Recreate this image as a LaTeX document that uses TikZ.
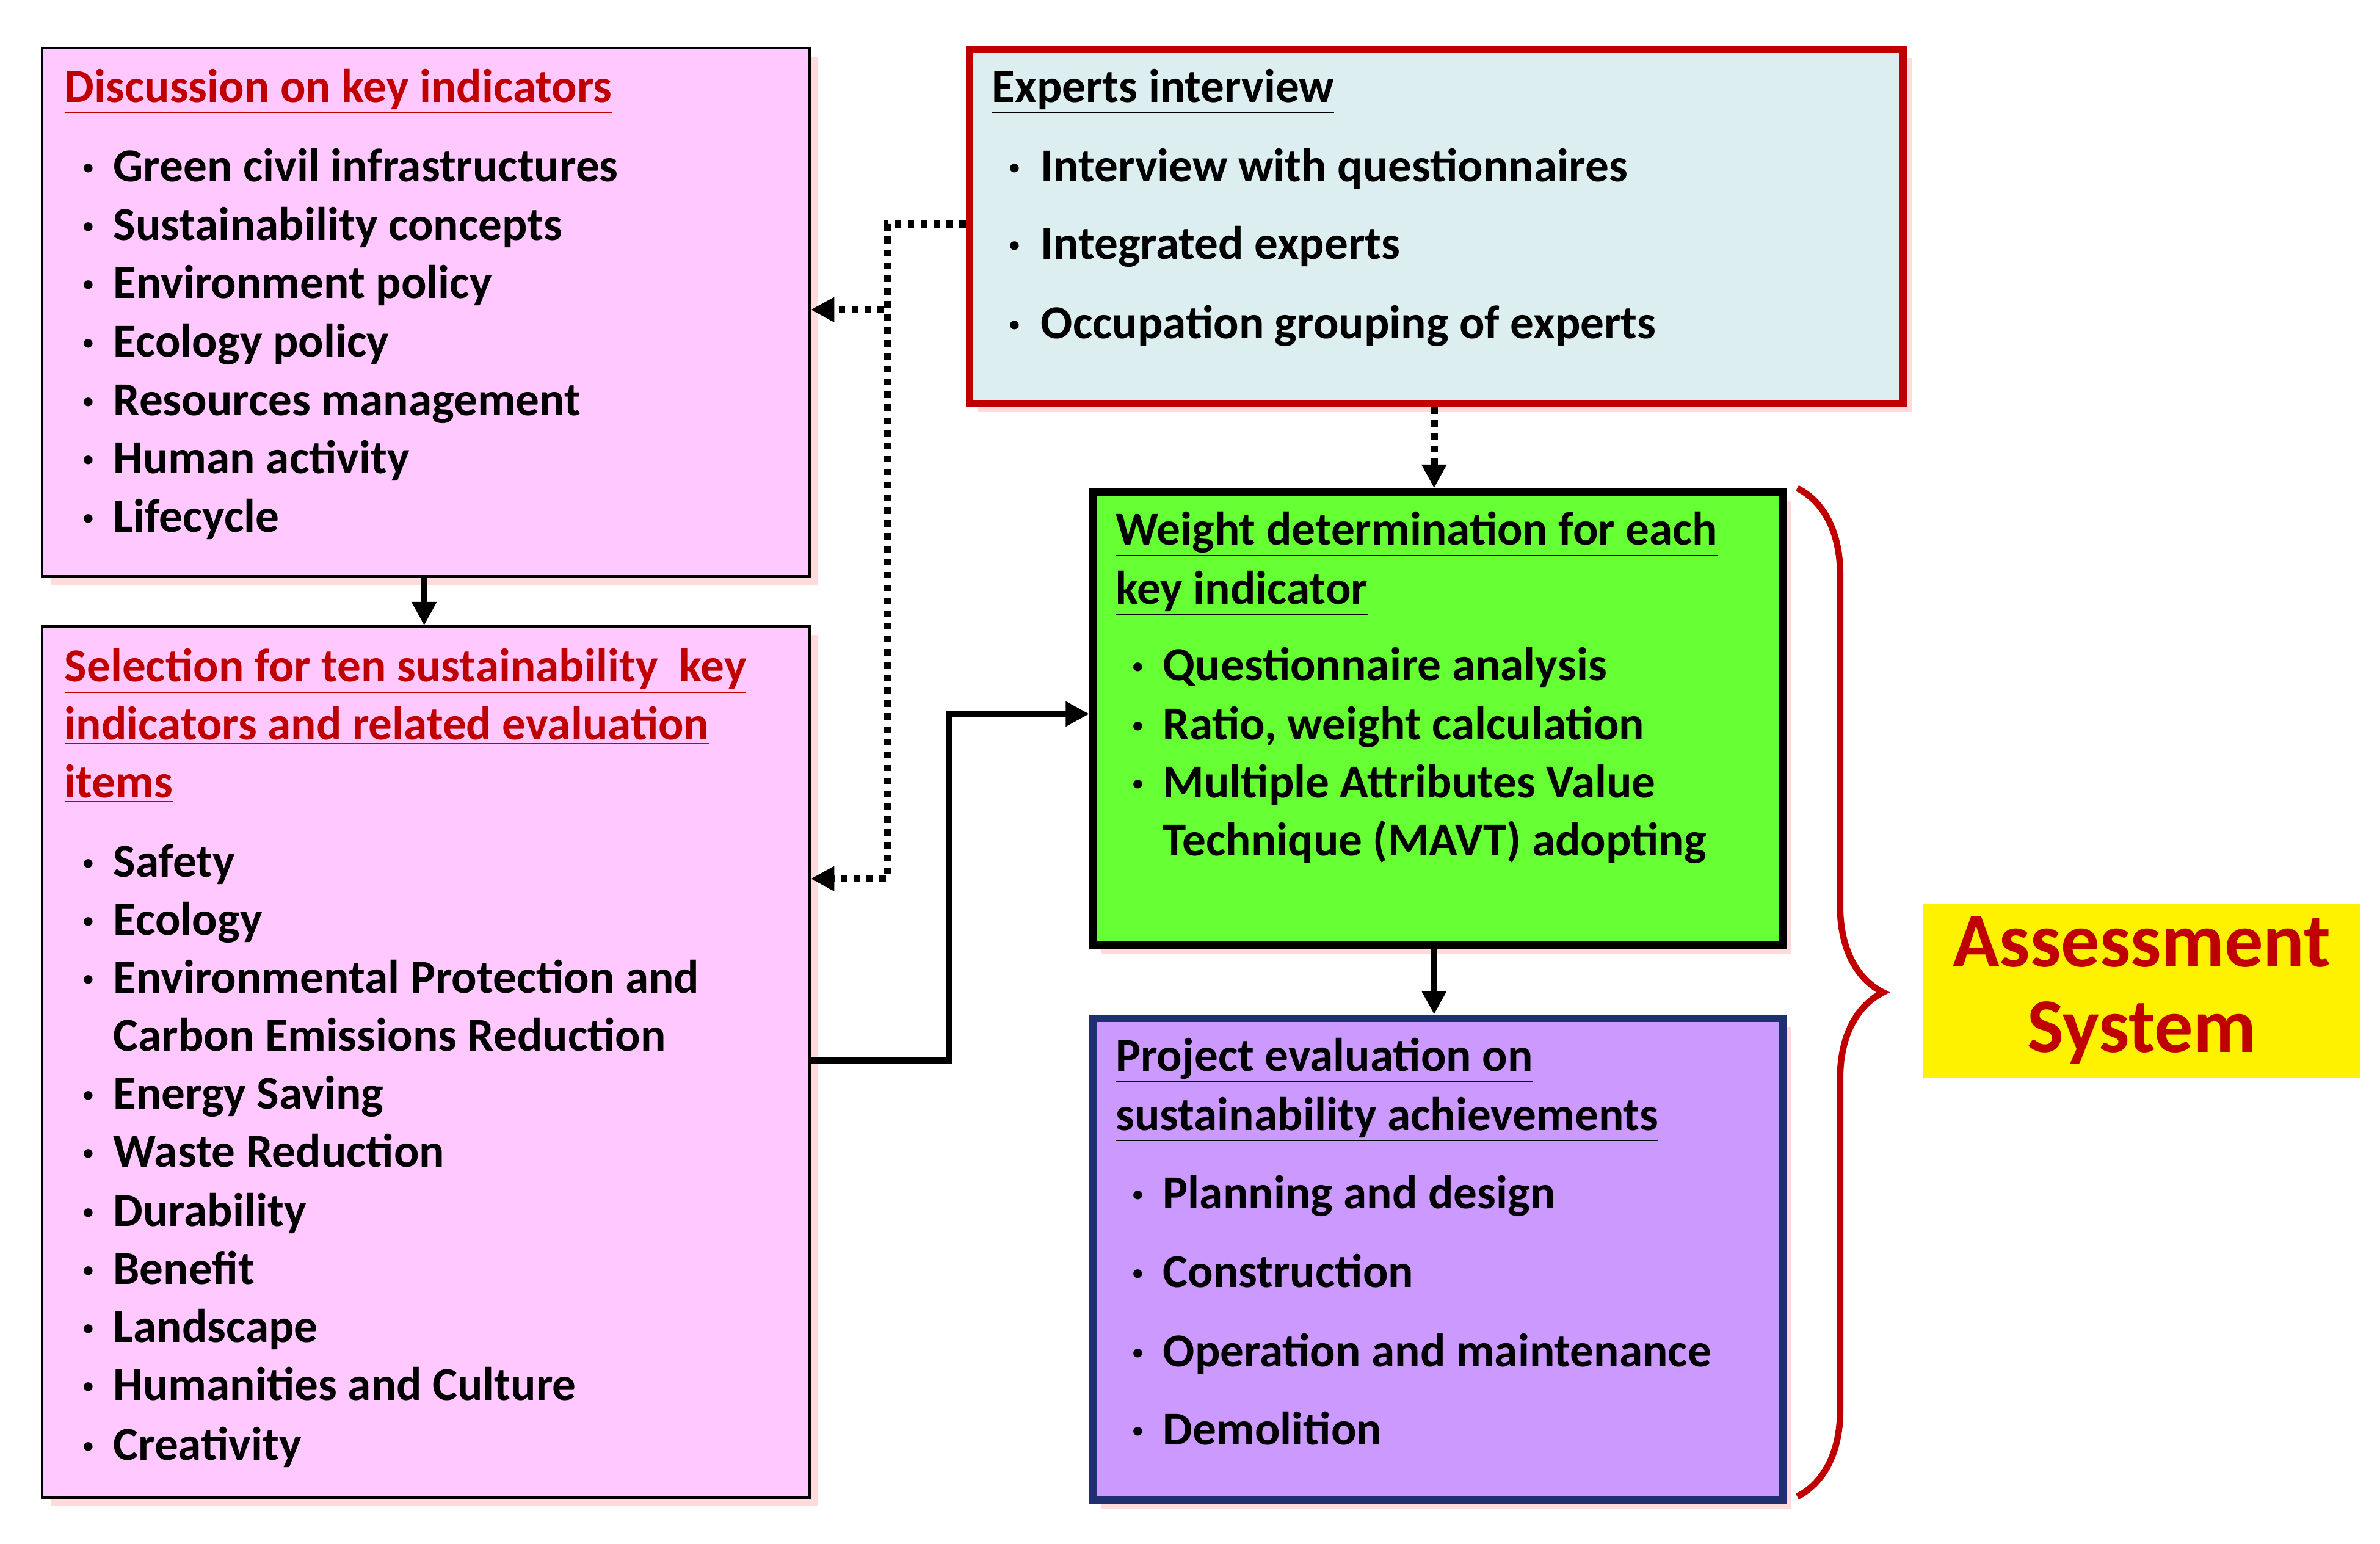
\documentclass[tikz,border=0pt]{standalone}
\usepackage{fontspec}
\setmainfont{Carlito}
\usetikzlibrary{shadows,arrows.meta,decorations.pathreplacing}
\definecolor{pinkf}{HTML}{FFC9FF}
\definecolor{bluef}{HTML}{DCEEF0}
\definecolor{greenf}{HTML}{66FF33}
\definecolor{purf}{HTML}{CC99FF}
\definecolor{redt}{HTML}{C00000}
\definecolor{navy}{HTML}{1F2F6F}
\begin{document}
\begin{tikzpicture}[x=0.025cm,y=-0.025cm,
  box/.style={drop shadow={shadow xshift=4pt,shadow yshift=-4pt,opacity=0.35,fill=red!40}},
  ttl/.style={anchor=base west,font=\fontsize{22}{27}\selectfont\bfseries,text=redt,inner sep=0},
  ttlk/.style={anchor=base west,font=\fontsize{22}{27}\selectfont\bfseries,text=black,inner sep=0},
  itm/.style={anchor=base west,font=\fontsize{22}{27}\selectfont\bfseries,inner sep=0},
  bul/.style={anchor=base,font=\fontsize{22}{27}\selectfont\bfseries,inner sep=0},
  arr/.style={line width=3pt,-{Triangle[length=11pt,width=11pt]}},
  darr/.style={line width=3.5pt,dash pattern=on 3pt off 3pt,-{Triangle[length=11pt,width=11pt]}}]
\useasboundingbox (0,0) rectangle (1560,1012);
\fill[white] (0,0) rectangle (1560,1012);
% boxes
\node[box,draw=black,line width=1pt,fill=pinkf,minimum width=503*0.025cm,minimum height=346*0.025cm,anchor=north west,inner sep=0] (A) at (27,31) {};
\node[box,draw=black,line width=1pt,fill=pinkf,minimum width=503*0.025cm,minimum height=571*0.025cm,anchor=north west,inner sep=0] (B) at (27,410) {};
\node[box,draw=redt,line width=3.5pt,fill=bluef,minimum width=612*0.025cm,minimum height=232*0.025cm,anchor=north west,inner sep=0] (C) at (633,30) {};
\node[box,draw=black,line width=3.5pt,fill=greenf,minimum width=452*0.025cm,minimum height=297*0.025cm,anchor=north west,inner sep=0] (D) at (714,320) {};
\node[box,draw=navy,line width=3.5pt,fill=purf,minimum width=452*0.025cm,minimum height=316*0.025cm,anchor=north west,inner sep=0] (E) at (714,665) {};
\node[fill=yellow,minimum width=287*0.025cm,minimum height=114*0.025cm,anchor=north west,inner sep=0] (S) at (1260,592) {};
\node[font=\fontsize{36}{40}\selectfont\bfseries,text=redt,align=center] (St) at (S.center) {Assessment\\System};
% brace
\draw[redt,line width=3pt,decorate,decoration={brace,amplitude=40pt,aspect=0.5}] (1178,320) -- (1178,981);
% connectors
\coordinate (c1) at (582,147);
\draw[darr] (C.west |- c1) -- (c1) |- (A.east |- 0,203);
\draw[darr] (c1) |- (B.east |- 0,576);
\draw[darr] (C.south -| 940,0) -- (D.north -| 940,0);
\draw[arr] (A.south -| 278,0) -- (B.north -| 278,0);
\draw[arr] (B.east |- 0,695) -| (622,468) -- (D.west |- 0,468);
\draw[arr] (D.south -| 940,0) -- (E.north -| 940,0);
% text A
\node[ttl] (a0) at (42,67) {\underline{Discussion on key indicators}};
\foreach \t [count=\i] in {Green civil infrastructures,Sustainability concepts,Environment policy,Ecology policy,Resources management,Human activity,Lifecycle}{
  \pgfmathsetmacro\yy{110+(\i-1)*38.3+9}
  \node[bul] (ab\i) at (58,\yy) {·};
  \node[itm] (a\i) at (74,\yy) {\t};
}
% text B
\node[ttl] (b01) at (42,447) {\underline{Selection for ten sustainability\ \ key}};
\node[ttl] (b02) at (42,485) {\underline{indicators and related evaluation}};
\node[ttl] (b03) at (42,523) {\underline{items}};
\foreach \t/\y [count=\i] in {Safety/566,Ecology/604,Environmental Protection and/642,Energy Saving/718,Waste Reduction/756,Durability/795,Benefit/833,Landscape/871,Humanities and Culture/909,Creativity/948}{
  \node[bul] (bb\i) at (58,\y+9) {·};
  \node[itm] (b\i) at (74,\y+9) {\t};
}
\node[itm] (bx) at (74,689) {Carbon Emissions Reduction};
% text C
\node[ttlk] (c0) at (650,67) {\underline{Experts interview}};
\foreach \t/\y [count=\i] in {Interview with questionnaires/110,Integrated experts/161,Occupation grouping of experts/213}{
  \node[bul] (cb\i) at (665,\y+9) {·};
  \node[itm] (ct\i) at (682,\y+9) {\t};
}
% text D
\node[ttlk] (d01) at (731,357) {\underline{Weight determination for each}};
\node[ttlk] (d02) at (731,396) {\underline{key indicator}};
\foreach \t/\y [count=\i] in {Questionnaire analysis/437,{Ratio, weight calculation}/476,Multiple Attributes Value/514}{
  \node[bul] (db\i) at (746,\y+9) {·};
  \node[itm] (dt\i) at (762,\y+9) {\t};
}
\node[itm] (dx) at (762,561) {Technique (MAVT) adopting};
% text E
\node[ttlk] (e01) at (731,702) {\underline{Project evaluation on}};
\node[ttlk] (e02) at (731,741) {\underline{sustainability achievements}};
\foreach \t/\y [count=\i] in {Planning and design/783,Construction/835,Operation and maintenance/887,Demolition/938}{
  \node[bul] (eb\i) at (746,\y+9) {·};
  \node[itm] (et\i) at (762,\y+9) {\t};
}
\end{tikzpicture}
\end{document}
